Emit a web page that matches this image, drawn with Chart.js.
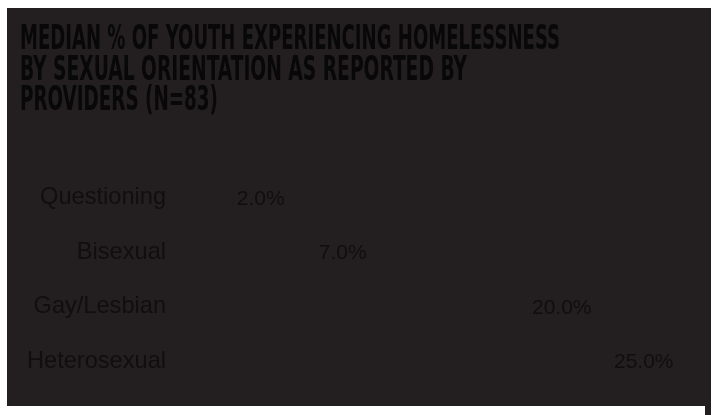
<!DOCTYPE html>
<html>
<head>
<meta charset="utf-8">
<script src="https://cdn.jsdelivr.net/npm/chart.js@4/dist/chart.umd.min.js"></script>
<style>
  html, body { margin: 0; padding: 0; background: #ffffff; }
  #wrap { position: absolute; left: 0; top: 0; width: 715px; height: 415px; }
  #panel { position: absolute; left: 7px; top: 8px; width: 704px; height: 398px; background: #231f20; }
  #strip { position: absolute; left: 705px; top: 400px; width: 6px; height: 15px; background: #231f20; }
  canvas { position: absolute; left: 0; top: 0; }
</style>
</head>
<body>
<div id="wrap">
  <div id="panel"></div>
  <div id="strip"></div>
  <canvas id="c" width="715" height="415"></canvas>
</div>
<script>
const titleLines = [
  "MEDIAN % OF YOUTH EXPERIENCING HOMELESSNESS",
  "BY SEXUAL ORIENTATION AS REPORTED BY",
  "PROVIDERS (N=83)"
];
const categories = ["Questioning", "Bisexual", "Gay/Lesbian", "Heterosexual"];
const values = [2.0, 7.0, 20.0, 25.0];
const valueLabels = ["2.0%", "7.0%", "20.0%", "25.0%"];

const BG = "#231f20";
const TEXT = "#100e0f";

const titlePlugin = {
  id: "bigTitle",
  afterDraw(chart) {
    const ctx = chart.ctx;
    ctx.save();
    ctx.fillStyle = "#080808";
    ctx.font = "bold 34px 'DejaVu Sans Condensed', 'Liberation Sans Narrow', 'DejaVu Sans', sans-serif";
    ctx.textAlign = "left";
    ctx.textBaseline = "alphabetic";
    const widths = [540, 447, 198];
    const baselines = [49, 80, 110];
    titleLines.forEach((t, i) => {
      ctx.fillText(t, 20, baselines[i], widths[i]);
    });
    ctx.restore();
  }
};

const valuePlugin = {
  id: "valueLabels",
  afterDatasetsDraw(chart) {
    const ctx = chart.ctx;
    const meta = chart.getDatasetMeta(0);
    ctx.save();
    ctx.fillStyle = TEXT;
    ctx.font = "21px 'Liberation Sans', Arial, sans-serif";
    ctx.textAlign = "left";
    ctx.textBaseline = "middle";
    meta.data.forEach((bar, i) => {
      ctx.fillText(valueLabels[i], bar.x + 4, bar.y + 1);
    });
    ctx.restore();
  }
};

new Chart(document.getElementById("c"), {
  type: "bar",
  data: {
    labels: categories,
    datasets: [{
      data: values,
      backgroundColor: BG,
      borderWidth: 0,
      categoryPercentage: 0.8,
      barPercentage: 0.9
    }]
  },
  options: {
    indexAxis: "y",
    responsive: false,
    animation: false,
    events: [],
    layout: { padding: { left: 0, right: 23, top: 170.5, bottom: 26.5 } },
    plugins: { legend: { display: false }, title: { display: false }, tooltip: { enabled: false } },
    scales: {
      x: { display: false, min: 0, max: 30 },
      y: {
        grid: { display: false },
        border: { display: false },
        ticks: {
          color: TEXT,
          padding: 26,
          font: { family: "'Liberation Sans', Arial, sans-serif", size: 23.6 }
        },
        afterFit(scale) {
          scale.width = 200;
          scale.paddingTop = 0;
          scale.paddingBottom = 0;
        }
      }
    }
  },
  plugins: [titlePlugin, valuePlugin]
});
</script>
</body>
</html>
